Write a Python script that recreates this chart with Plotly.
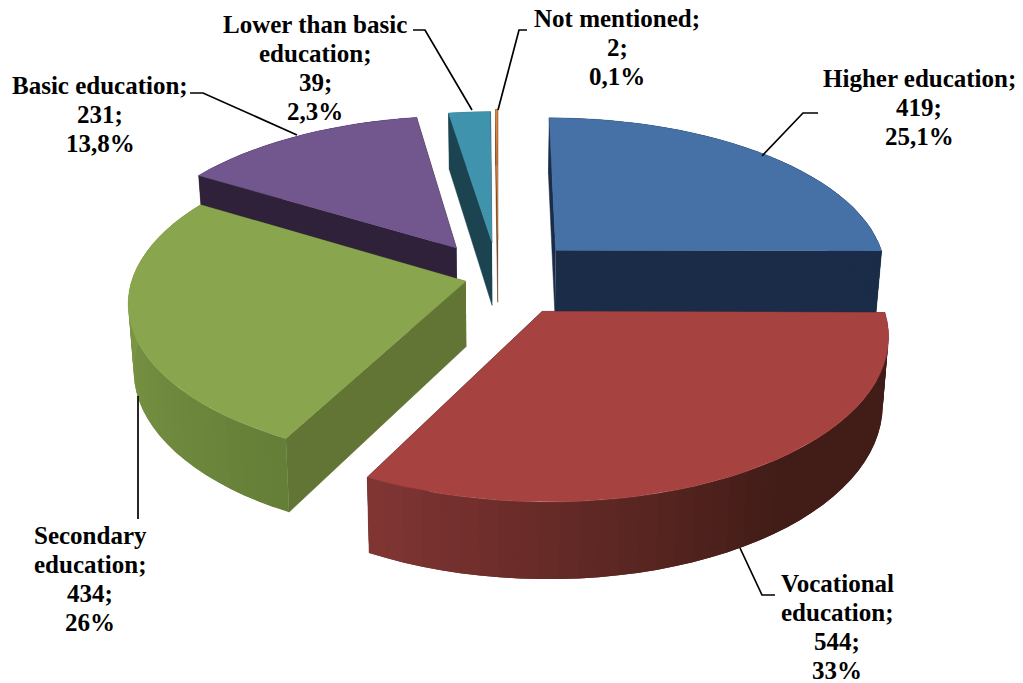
import math
import plotly.graph_objects as go

categories = ["Higher education", "Vocational education", "Secondary education",
              "Basic education", "Lower than basic education", "Not mentioned"]
values = [419, 544, 434, 231, 39, 2]
percent_labels = ["25,1%", "33%", "26%", "13,8%", "2,3%", "0,1%"]

label_lines = [["Higher education;", "419;", "25,1%"],
               ["Vocational", "education;", "544;", "33%"],
               ["Secondary", "education;", "434;", "26%"],
               ["Basic education;", "231;", "13,8%"],
               ["Lower than basic", "education;", "39;", "2,3%"],
               ["Not mentioned;", "2;", "0,1%"]]
label_x = [919, 837, 90, 100, 315, 617]
label_first_y = [78, 583, 535, 85, 24, 18]
LINE_STEP = 29.3
leaders = [[(818, 113), (803, 113), (762, 156)],
           [(775, 595), (762, 595), (740, 548)],
           [(138, 519), (138, 396)],
           [(190, 93), (203, 93), (297, 135)],
           [(413, 30), (425, 30), (472, 110)],
           [(527, 30), (519, 30), (498, 110)]]

top_colors = ["#4571A6", "#A64341", "#89A54E", "#72578E", "#3F93AC", "#DB843D"]
side_colors = ["#1A2C47", "#421C17", "#637535", "#2E2139", "#1C4450", "#5A3010"]
rim_from = ["#1A2C47", "#421C17", "#667F38", "#2E2139", "#1C4450", "#5A3010"]
rim_to = ["#1A2C47", "#803533", "#85A24C", "#2E2139", "#1C4450", "#5A3010"]
rim_hold = [0, 0.45, 0, 0, 0, 0]

explode = [0.25, 0.25, 0.10, 0.23, 0.23, 0.25]
draw_order = [3, 4, 5, 0, 2, 1]

CX, CY = 498, 277
A, B, K = 333, 156, 0.13
DEPTH, SHRINK = 65, 0.985


def project(u, v, bottom=False):
    s = 1 / (1 + K * v)
    x = CX + A * u * s
    y = CY - B * v * s
    if bottom:
        x = CX + (x - CX) * SHRINK
        y = y + DEPTH * s
    return x, y


def mix(c1, c2, t):
    a = [int(c1[i:i + 2], 16) for i in (1, 3, 5)]
    b = [int(c2[i:i + 2], 16) for i in (1, 3, 5)]
    return "#%02X%02X%02X" % tuple(round(p + (q - p) * t) for p, q in zip(a, b))


fig = go.Figure()


def poly(points, color, width=0.5):
    fig.add_trace(go.Scatter(x=[p[0] for p in points], y=[p[1] for p in points],
                             mode="lines" if width else "none", fill="toself", fillcolor=color,
                             line=dict(color=color, width=width),
                             hoverinfo="skip", showlegend=False))


total = sum(values)
bounds = [0]
for val in values:
    bounds.append(bounds[-1] + val / total * 2 * math.pi)

for i in draw_order:
    a0, a1 = bounds[i], bounds[i + 1]
    mid = (a0 + a1) / 2
    ou, ov = explode[i] * math.sin(mid), explode[i] * math.cos(mid)
    n = max(2, int((a1 - a0) / 0.05))
    arc = [(ou + math.sin(a0 + (a1 - a0) * j / n), ov + math.cos(a0 + (a1 - a0) * j / n))
           for j in range(n + 1)]
    for edge in (arc[0], arc[-1]):
        poly([project(ou, ov), project(*edge), project(*edge, True), project(ou, ov, True)],
             side_colors[i])
    # Rim bands overlap the following band so no seams show between them.
    for j in range(n):
        t = j / max(1, n - 1)
        t = max(0, (t - rim_hold[i]) / (1 - rim_hold[i]))
        band = arc[j:j + 3]
        poly([project(*p) for p in band] + [project(*p, True) for p in reversed(band)],
             mix(rim_from[i], rim_to[i], t), 0)
    poly([project(ou, ov)] + [project(*p) for p in arc], top_colors[i])

for line in leaders:
    fig.add_trace(go.Scatter(x=[p[0] for p in line], y=[p[1] for p in line], mode="lines",
                             line=dict(color="#000000", width=1.7),
                             hoverinfo="skip", showlegend=False))

for lines, x, y0 in zip(label_lines, label_x, label_first_y):
    for k, text in enumerate(lines):
        fig.add_annotation(x=x, y=y0 + k * LINE_STEP, text="<b>" + text + "</b>", showarrow=False,
                           font=dict(family="Liberation Serif", size=25, color="#000000"))

fig.update_layout(width=1023, height=683, margin=dict(l=0, r=0, t=0, b=0),
                  paper_bgcolor="white", plot_bgcolor="white", showlegend=False,
                  xaxis=dict(range=[0, 1023], visible=False, fixedrange=True),
                  yaxis=dict(range=[683, 0], visible=False, fixedrange=True))

fig.write_html("out.html", config={"displayModeBar": False},
               post_script="document.body.style.margin='0';document.body.style.overflow='hidden';")
